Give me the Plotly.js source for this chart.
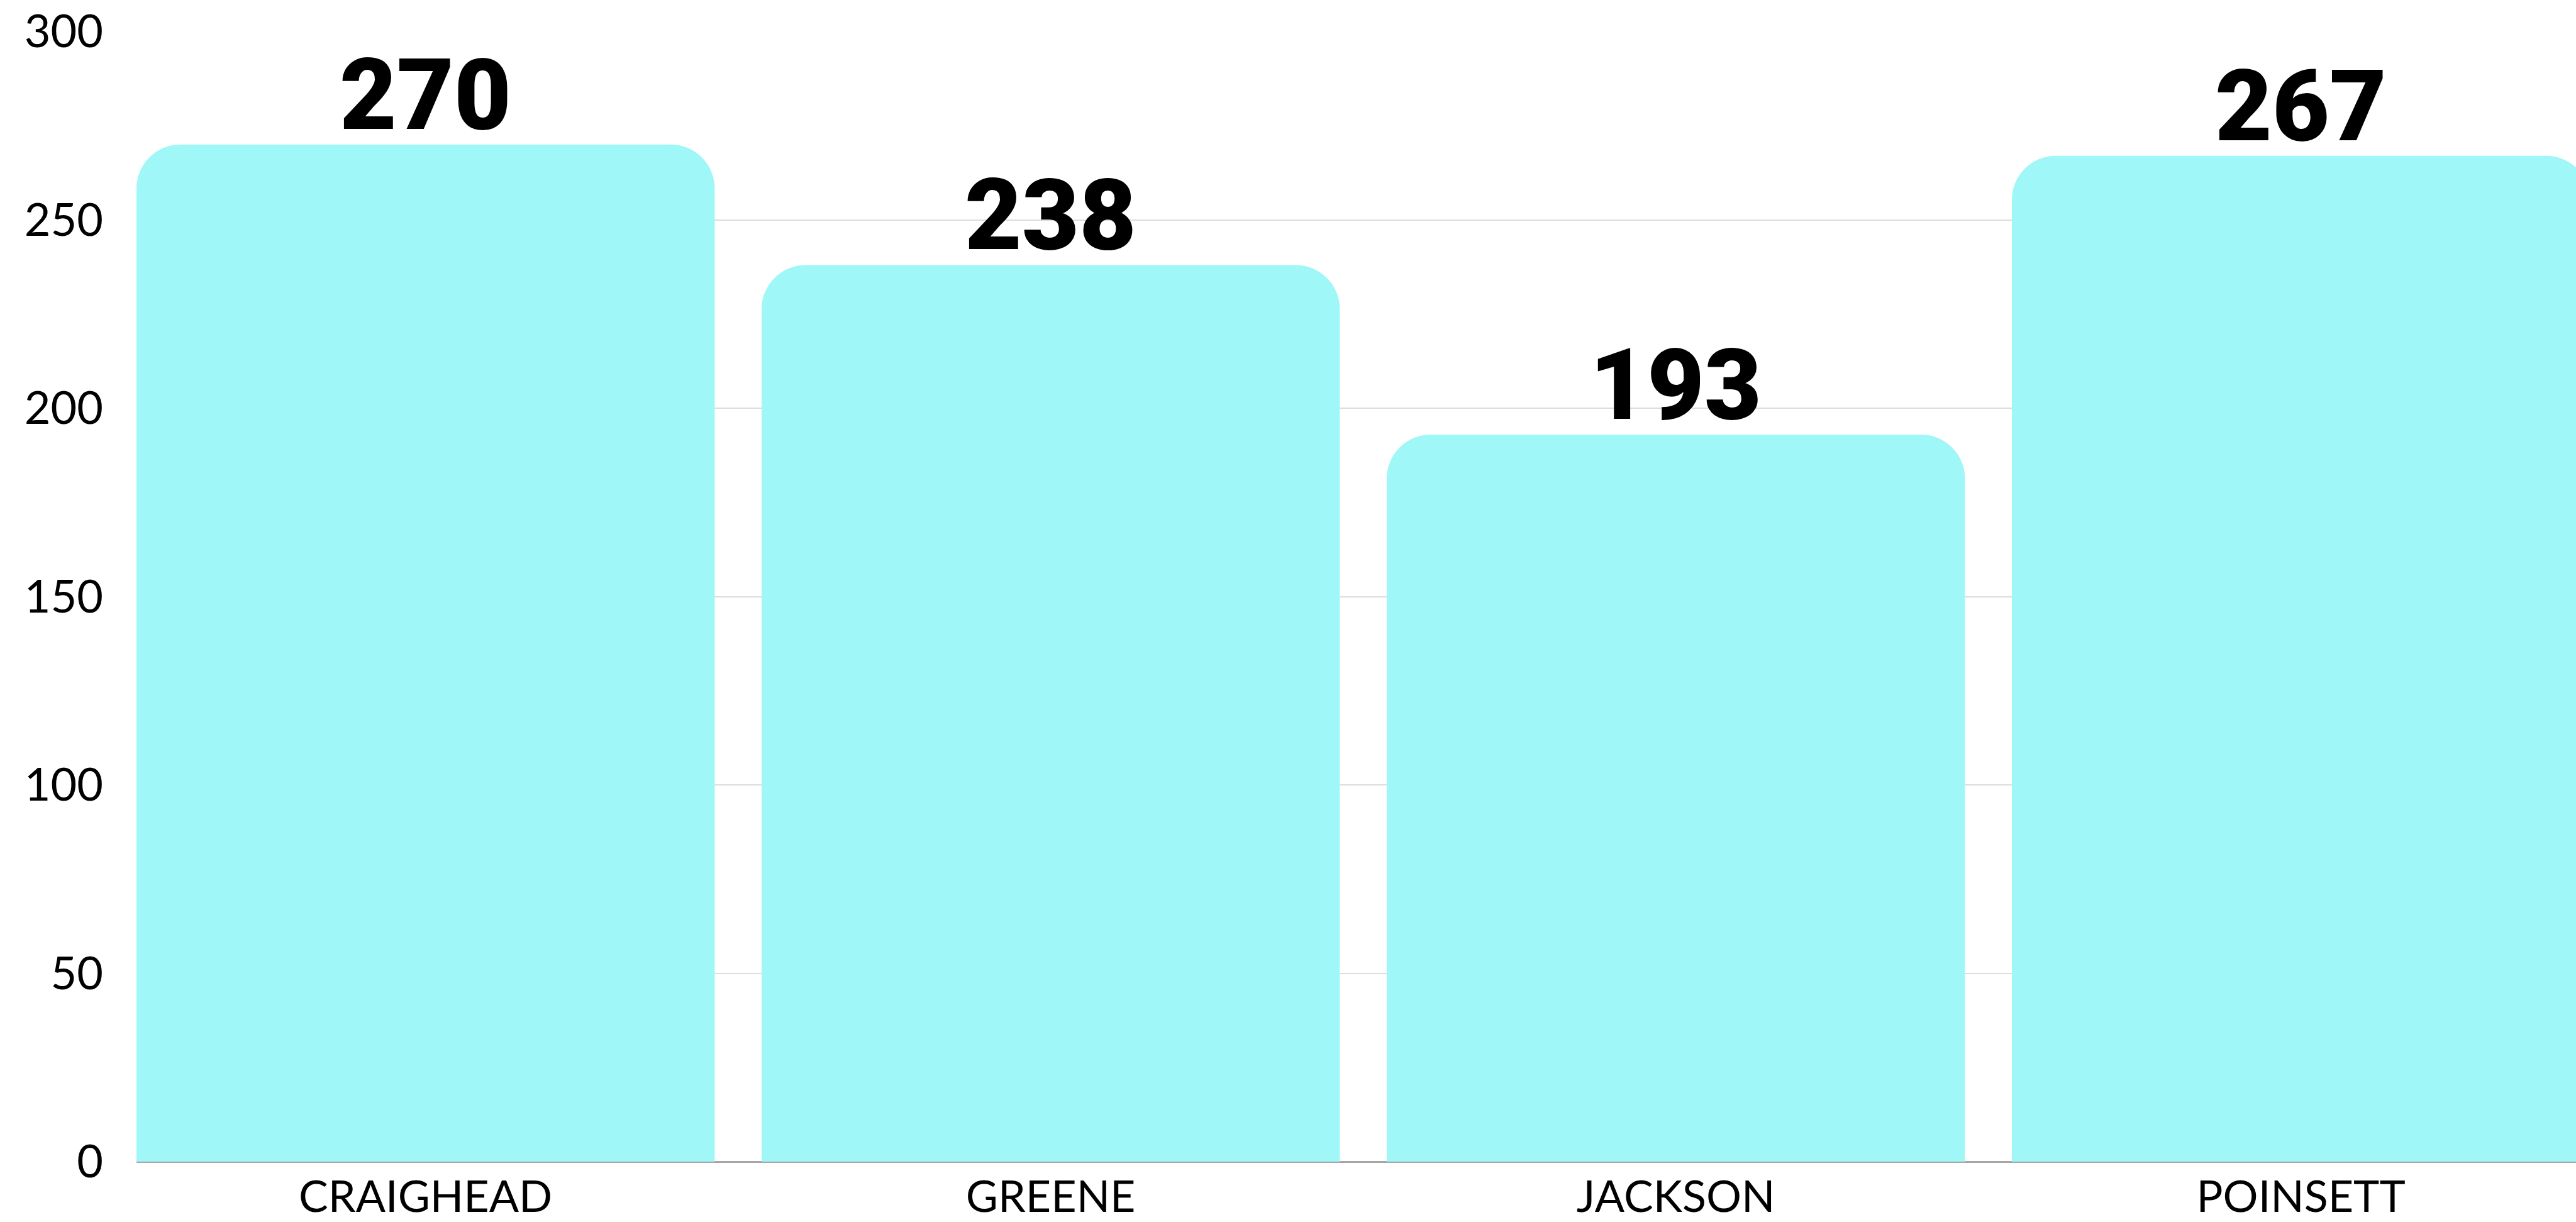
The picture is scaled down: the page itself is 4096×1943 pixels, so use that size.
<!DOCTYPE html>
<html>
<head>
<meta charset="utf-8">
<script src="https://cdn.plot.ly/plotly-3.0.1.min.js"></script>
<style>html,body{margin:0;padding:0;background:#fff;}#chart{width:4096px;height:1943px;}</style>
</head>
<body>
<div id="chart"></div>
<script>
const categories = ["CRAIGHEAD", "GREENE", "JACKSON", "POINSETT"];
const values = [270, 238, 193, 267];
const yTicks = [0, 50, 100, 150, 200, 250, 300];

const trace = {
  type: "bar",
  x: categories,
  y: values,
  width: 0.925,
  marker: { color: "#a0f7f7", cornerradius: 70, line: { width: 0 } },
  hoverinfo: "none"
};

const annotations = categories.map((c, i) => ({
  x: c,
  y: values[i],
  xref: "x",
  yref: "y",
  text: String(values[i]),
  showarrow: false,
  xanchor: "center",
  yanchor: "bottom",
  yshift: -14,
  borderpad: 0,
  font: { family: "Roboto, Inter, sans-serif", size: 157, color: "#000", weight: 900 }
}));

const layout = {
  width: 4096,
  height: 1943,
  margin: { l: 217, r: 0, t: 50, b: 96, pad: 0 },
  paper_bgcolor: "#ffffff",
  plot_bgcolor: "#ffffff",
  showlegend: false,
  bargap: 0.075,
  annotations: annotations,
  xaxis: {
    type: "category",
    range: [-0.4625, 3.44],
    showgrid: false,
    showline: false,
    zeroline: false,
    ticks: "",
    ticklabelstandoff: 9,
    tickfont: { family: "Lato, sans-serif", size: 70, color: "#000" }
  },
  yaxis: {
    range: [0, 300],
    tickvals: yTicks,
    ticktext: yTicks.map(String),
    showgrid: true,
    gridcolor: "#dddddd",
    gridwidth: 2,
    zeroline: true,
    zerolinecolor: "#a6a6a6",
    zerolinewidth: 3,
    showline: false,
    ticks: "",
    ticklabelstandoff: 52,
    tickfont: { family: "Lato, sans-serif", size: 72, color: "#000" }
  }
};

Plotly.newPlot("chart", [trace], layout, { staticPlot: true, displayModeBar: false });
</script>
</body>
</html>
